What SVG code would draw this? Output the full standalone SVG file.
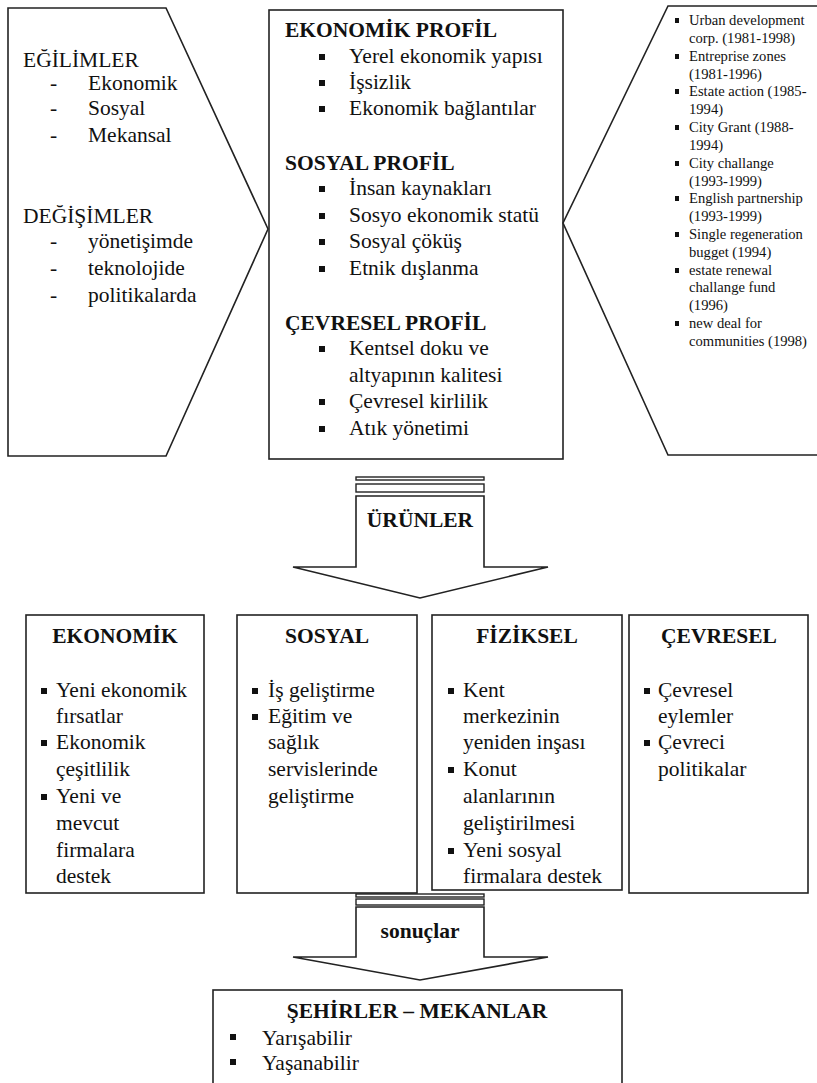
<svg xmlns="http://www.w3.org/2000/svg" width="817" height="1083" viewBox="0 0 817 1083" font-family="'Times New Roman', 'Liberation Serif', serif">
<style>
  .shape { fill: #ffffff; stroke: #222222; stroke-width: 1.6; }
  .bar { fill: #ffffff; stroke: #222222; stroke-width: 1.4; }
  text { font-family: "Times New Roman", "Liberation Serif", serif; fill: #111111; }
  .t { font-size: 21.5px; font-weight: 400; font-style: normal; }
  .b { font-size: 21.5px; font-weight: bold; }
  .s { font-size: 14.6px; }
  .mid { text-anchor: middle; }
  .bul { fill: #111111; }
</style>
<rect width="817" height="1083" fill="#ffffff"/>

<g id="connectors">
  <g id="arrow-urunler">
    <rect class="bar" x="356" y="477" width="128" height="3"/>
    <rect class="bar" x="356" y="484" width="128" height="8"/>
    <path class="shape" d="M356,496 L356,567 L293,567 L420,598 L548,567 L484,567 L484,496 Z"/>
    <text class="b mid" x="420" y="527">ÜRÜNLER</text>
  </g>
  <g id="arrow-sonuclar">
    <rect class="bar" x="356" y="894" width="128" height="3"/>
    <rect class="bar" x="356" y="899" width="128" height="6"/>
    <path class="shape" d="M356,907 L356,957 L293,957 L420,980 L548,957 L484,957 L484,907 Z"/>
    <text class="b mid" x="420" y="938">sonuçlar</text>
  </g>
</g>

<g id="node-egilimler">
  <path class="shape" d="M8,8 L166,8 L268,229 L166,456 L8,456 Z"/>
  <text class="t" x="23" y="67">EĞİLİMLER</text>
  <text class="t" x="50" y="90">-</text><text class="t" x="88" y="90">Ekonomik</text>
  <text class="t" x="50" y="115">-</text><text class="t" x="88" y="115">Sosyal</text>
  <text class="t" x="50" y="142">-</text><text class="t" x="88" y="142">Mekansal</text>
  <text class="t" x="23" y="223">DEĞİŞİMLER</text>
  <text class="t" x="50" y="248">-</text><text class="t" x="88" y="248">yönetişimde</text>
  <text class="t" x="50" y="275">-</text><text class="t" x="88" y="275">teknolojide</text>
  <text class="t" x="50" y="302">-</text><text class="t" x="88" y="302">politikalarda</text>
</g>

<g id="node-profil">
  <rect class="shape" x="269" y="10" width="294" height="449"/>
  <text class="b" x="285" y="37">EKONOMİK PROFİL</text>
  <rect class="bul" x="319" y="54" width="6" height="6"/><text class="t" x="349" y="63">Yerel ekonomik yapısı</text>
  <rect class="bul" x="319" y="80" width="6" height="6"/><text class="t" x="349" y="89">İşsizlik</text>
  <rect class="bul" x="319" y="106" width="6" height="6"/><text class="t" x="349" y="115">Ekonomik bağlantılar</text>
  <text class="b" x="285" y="170">SOSYAL PROFİL</text>
  <rect class="bul" x="319" y="186" width="6" height="6"/><text class="t" x="349" y="195">İnsan kaynakları</text>
  <rect class="bul" x="319" y="213" width="6" height="6"/><text class="t" x="349" y="222">Sosyo ekonomik statü</text>
  <rect class="bul" x="319" y="239" width="6" height="6"/><text class="t" x="349" y="248">Sosyal çöküş</text>
  <rect class="bul" x="319" y="266" width="6" height="6"/><text class="t" x="349" y="275">Etnik dışlanma</text>
  <text class="b" x="285" y="330">ÇEVRESEL PROFİL</text>
  <rect class="bul" x="319" y="346" width="6" height="6"/><text class="t" x="349" y="355">Kentsel doku ve</text>
  <text class="t" x="349" y="382">altyapının kalitesi</text>
  <rect class="bul" x="319" y="399" width="6" height="6"/><text class="t" x="349" y="408">Çevresel kirlilik</text>
  <rect class="bul" x="319" y="426" width="6" height="6"/><text class="t" x="349" y="435">Atık yönetimi</text>
</g>

<g id="node-programlar">
  <path class="shape" d="M820,6 L668,6 L563,223 L668,455 L820,455"/>
  <rect class="bul" x="675" y="18" width="4" height="5"/><text class="s" x="689" y="25">Urban development</text>
  <text class="s" x="689" y="43">corp. (1981-1998)</text>
  <rect class="bul" x="675" y="54" width="4" height="5"/><text class="s" x="689" y="61">Entreprise zones</text>
  <text class="s" x="689" y="79">(1981-1996)</text>
  <rect class="bul" x="675" y="89" width="4" height="5"/><text class="s" x="689" y="96">Estate action (1985-</text>
  <text class="s" x="689" y="114">1994)</text>
  <rect class="bul" x="675" y="125" width="4" height="5"/><text class="s" x="689" y="132">City Grant (1988-</text>
  <text class="s" x="689" y="150">1994)</text>
  <rect class="bul" x="675" y="161" width="4" height="5"/><text class="s" x="689" y="168">City challange</text>
  <text class="s" x="689" y="186">(1993-1999)</text>
  <rect class="bul" x="675" y="196" width="4" height="5"/><text class="s" x="689" y="203">English partnership</text>
  <text class="s" x="689" y="221">(1993-1999)</text>
  <rect class="bul" x="675" y="232" width="4" height="5"/><text class="s" x="689" y="239">Single regeneration</text>
  <text class="s" x="689" y="257">bugget (1994)</text>
  <rect class="bul" x="675" y="268" width="4" height="5"/><text class="s" x="689" y="275">estate renewal</text>
  <text class="s" x="689" y="292">challange fund</text>
  <text class="s" x="689" y="310">(1996)</text>
  <rect class="bul" x="675" y="321" width="4" height="5"/><text class="s" x="689" y="328">new deal for</text>
  <text class="s" x="689" y="346">communities (1998)</text>
</g>

<g id="node-ekonomik">
  <rect class="shape" x="26" y="615" width="178" height="278"/>
  <text class="b mid" x="115" y="643">EKONOMİK</text>
  <rect class="bul" x="41" y="688" width="6" height="6"/><text class="t" x="56" y="697">Yeni ekonomik</text>
  <text class="t" x="56" y="723">fırsatlar</text>
  <rect class="bul" x="41" y="740" width="6" height="6"/><text class="t" x="56" y="749">Ekonomik</text>
  <text class="t" x="56" y="776">çeşitlilik</text>
  <rect class="bul" x="41" y="794" width="6" height="6"/><text class="t" x="56" y="803">Yeni ve</text>
  <text class="t" x="56" y="830">mevcut</text>
  <text class="t" x="56" y="857">firmalara</text>
  <text class="t" x="56" y="883">destek</text>
</g>

<g id="node-sosyal">
  <rect class="shape" x="237" y="615" width="180" height="278"/>
  <text class="b mid" x="327" y="643">SOSYAL</text>
  <rect class="bul" x="252" y="688" width="6" height="6"/><text class="t" x="268" y="697">İş geliştirme</text>
  <rect class="bul" x="252" y="714" width="6" height="6"/><text class="t" x="268" y="723">Eğitim ve</text>
  <text class="t" x="268" y="749">sağlık</text>
  <text class="t" x="268" y="776">servislerinde</text>
  <text class="t" x="268" y="803">geliştirme</text>
</g>

<g id="node-fiziksel">
  <rect class="shape" x="432" y="615" width="190" height="275"/>
  <text class="b mid" x="527" y="643">FİZİKSEL</text>
  <rect class="bul" x="448" y="688" width="6" height="6"/><text class="t" x="463" y="697">Kent</text>
  <text class="t" x="463" y="723">merkezinin</text>
  <text class="t" x="463" y="749">yeniden inşası</text>
  <rect class="bul" x="448" y="767" width="6" height="6"/><text class="t" x="463" y="776">Konut</text>
  <text class="t" x="463" y="803">alanlarının</text>
  <text class="t" x="463" y="830">geliştirilmesi</text>
  <rect class="bul" x="448" y="848" width="6" height="6"/><text class="t" x="463" y="857">Yeni sosyal</text>
  <text class="t" x="463" y="883">firmalara destek</text>
</g>

<g id="node-cevresel">
  <rect class="shape" x="629" y="615" width="179" height="278"/>
  <text class="b mid" x="719" y="643">ÇEVRESEL</text>
  <rect class="bul" x="644" y="688" width="6" height="6"/><text class="t" x="658" y="697">Çevresel</text>
  <text class="t" x="658" y="723">eylemler</text>
  <rect class="bul" x="644" y="740" width="6" height="6"/><text class="t" x="658" y="749">Çevreci</text>
  <text class="t" x="658" y="776">politikalar</text>
</g>

<g id="node-sehirler">
  <rect class="shape" x="213" y="990" width="409" height="110"/>
  <text class="b mid" x="417" y="1018">ŞEHİRLER – MEKANLAR</text>
  <rect class="bul" x="230" y="1034" width="6" height="6"/><text class="t" x="262" y="1045">Yarışabilir</text>
  <rect class="bul" x="230" y="1059" width="6" height="6"/><text class="t" x="262" y="1070">Yaşanabilir</text>
</g>
</svg>
